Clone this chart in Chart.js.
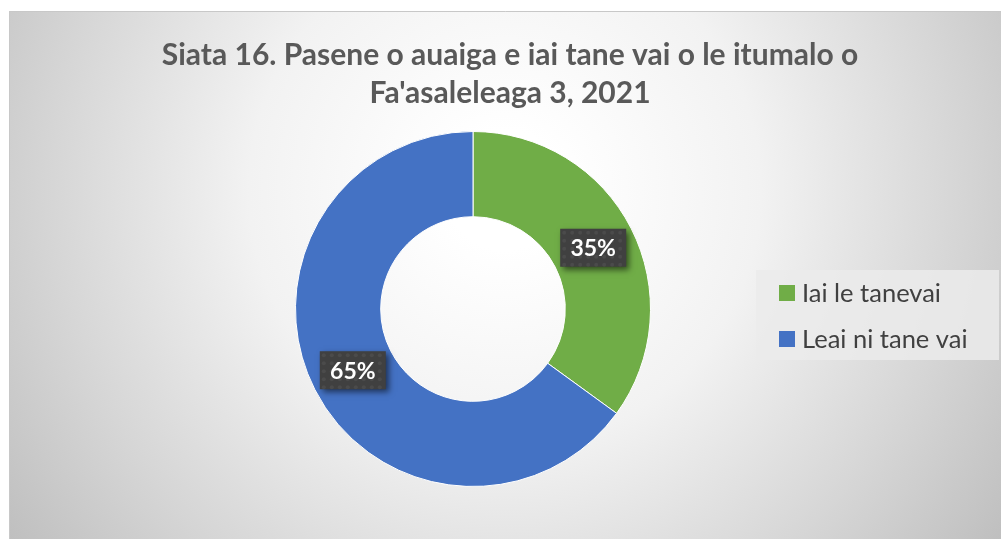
<!DOCTYPE html>
<html>
<head>
<meta charset="utf-8">
<script src="https://cdn.jsdelivr.net/npm/chart.js@4.4.1/dist/chart.umd.min.js"></script>
<style>
  html, body { margin: 0; padding: 0; background: #fff; }
  #wrap { width: 1001px; height: 539px; position: relative; }
</style>
</head>
<body>
<div id="wrap"><canvas id="chart"></canvas></div>
<script>
const titleLines = ['Siata 16. Pasene o auaiga e iai tane vai o le itumalo o', "Fa'asaleleaga 3, 2021"];
const categories = ['Iai le tanevai', 'Leai ni tane vai'];
const shares = [35, 65];
const sliceColors = ['#70AD47', '#4472C4'];

const FONT = 'Lato, "Open Sans", sans-serif';

// background, title and legend drawn around the doughnut
const frame = {
    id: 'frame',
    beforeDraw(chart) {
        const ctx = chart.ctx;
        ctx.save();
        ctx.fillStyle = '#fff';
        ctx.fillRect(0, 0, chart.width, chart.height);
        const g = ctx.createRadialGradient(505, 190, 60, 505, 190, 620);
        g.addColorStop(0, '#ffffff');
        g.addColorStop(0.35, '#f2f2f2');
        g.addColorStop(0.7, '#d6d6d6');
        g.addColorStop(1, '#bdbdbd');
        ctx.fillStyle = g;
        ctx.fillRect(9, 11, chart.width - 9, chart.height - 11);
        ctx.strokeStyle = '#c8c8c8';
        ctx.lineWidth = 1;
        ctx.beginPath();
        ctx.moveTo(9.5, chart.height);
        ctx.lineTo(9.5, 11.5);
        ctx.lineTo(chart.width, 11.5);
        ctx.stroke();

        ctx.fillStyle = '#595959';
        ctx.font = 'bold 30px ' + FONT;
        ctx.textAlign = 'center';
        ctx.textBaseline = 'middle';
        titleLines.forEach((t, i) => ctx.fillText(t, 510, 55 + i * 38));
        ctx.restore();
    },
    afterDraw(chart) {
        const ctx = chart.ctx;
        ctx.save();
        // legend box
        ctx.fillStyle = 'rgba(235,235,235,0.85)';
        ctx.fillRect(756, 270, 243, 90);
        ctx.font = '25.5px ' + FONT;
        ctx.textBaseline = 'middle';
        ctx.textAlign = 'left';
        categories.forEach((c, i) => {
            const y = 293 + i * 46;
            ctx.fillStyle = sliceColors[i];
            ctx.fillRect(779, y - 8, 16, 16);
            ctx.fillStyle = '#404040';
            ctx.fillText(c, 802, y + 1);
        });

        // data labels
        const meta = chart.getDatasetMeta(0);
        meta.data.forEach((arc, i) => {
            const p = arc.tooltipPosition();
            const w = 66, h = 38;
            const x = p.x - w / 2, y = p.y - h / 2;
            ctx.save();
            ctx.shadowColor = 'rgba(0,0,0,0.55)';
            ctx.shadowBlur = 6;
            ctx.shadowOffsetX = 3;
            ctx.shadowOffsetY = 3;
            ctx.fillStyle = '#404040';
            ctx.fillRect(x, y, w, h);
            ctx.restore();
            // faint dot texture
            ctx.fillStyle = 'rgba(255,255,255,0.06)';
            for (let dx = 4; dx < w; dx += 8) {
                for (let dy = 4; dy < h; dy += 8) {
                    ctx.beginPath();
                    ctx.arc(x + dx, y + dy, 2, 0, Math.PI * 2);
                    ctx.fill();
                }
            }
            ctx.fillStyle = '#ffffff';
            ctx.font = 'bold 23px ' + FONT;
            ctx.textAlign = 'center';
            ctx.fillText(shares[i] + '%', p.x, p.y + 1);
        });
        ctx.restore();
    }
};

new Chart(document.getElementById('chart'), {
    type: 'doughnut',
    data: {
        labels: categories,
        datasets: [{
            data: shares,
            backgroundColor: sliceColors,
            borderColor: '#ffffff',
            borderWidth: 1
        }]
    },
    options: {
        responsive: true,
        maintainAspectRatio: false,
        animation: false,
        cutout: '52%',
        layout: { padding: { left: 295, right: 350, top: 131, bottom: 52 } },
        plugins: {
            legend: { display: false },
            title: { display: false },
            tooltip: { enabled: false }
        }
    },
    plugins: [frame]
});
</script>
</body>
</html>
